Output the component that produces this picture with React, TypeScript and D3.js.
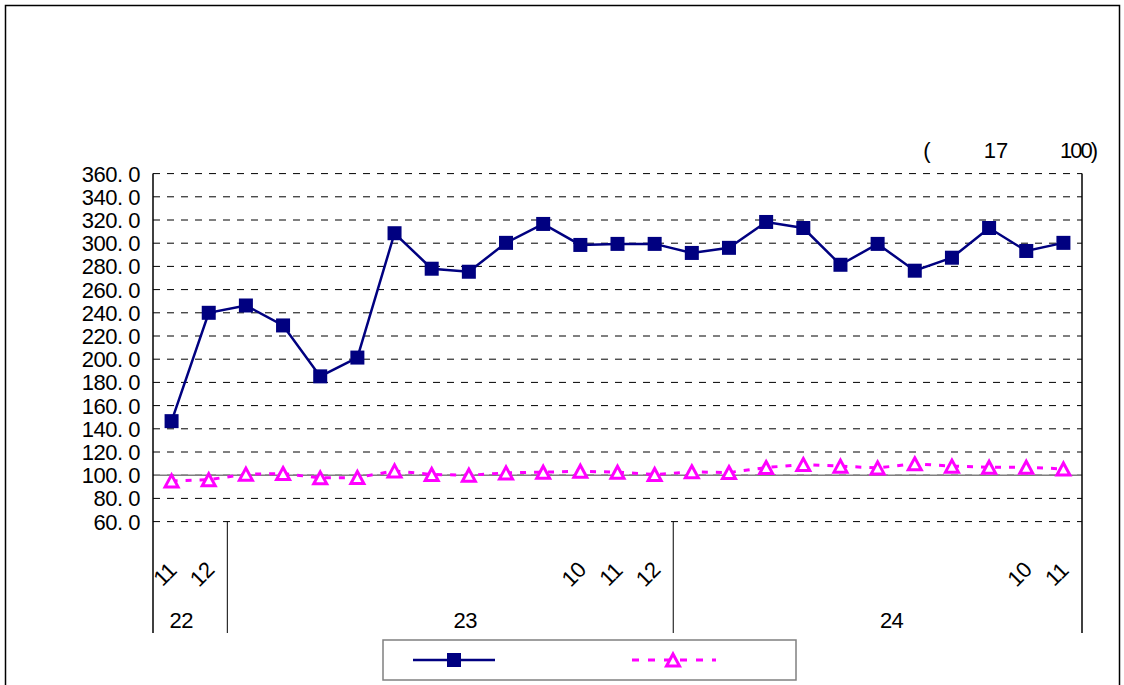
import React from 'react';
import * as d3 from 'd3';

// ---- data ----
const monthLabels = ['11', '12', '', '', '', '', '', '', '', '', '', '10', '11', '12', '', '', '', '', '', '', '', '', '', '10', '11'];
const yearLabels = ['22', '23', '24'];
const yearCounts = [2, 12, 11];
const seriesA = [146.6, 240.0, 246.3, 229.1, 185.2, 201.4, 308.6, 278.0, 275.4, 300.3, 316.6, 298.5, 299.4, 299.4, 291.6, 296.0, 318.3, 313.1, 281.4, 299.4, 276.3, 287.5, 313.1, 293.3, 300.3];
const seriesB = [95.1, 96.1, 100.9, 101.4, 97.7, 98.0, 103.7, 100.6, 100.0, 102.0, 102.6, 103.4, 102.6, 100.6, 102.9, 102.3, 106.6, 109.2, 107.8, 106.3, 109.8, 107.8, 106.9, 106.9, 105.4];
const yTicks = [60, 80, 100, 120, 140, 160, 180, 200, 220, 240, 260, 280, 300, 320, 340, 360];
const noteTexts = ['(', '17', '100)'];

// ---- layout ----
const W = 1124, H = 685;
const L = 153, R = 1082, T = 173.6, B = 521.6;
const AXIS_BOTTOM = 633;
const FONT = '"Liberation Sans", Arial, sans-serif';
const NAVY = '#000080';
const MAG = '#FF00FF';

export default function App() {
  const idx = d3.range(seriesA.length);
  const x = d3.scaleBand<number>().domain(idx).range([L, R]).padding(0);
  const cx = (i: number) => (x(i) as number) + x.bandwidth() / 2;
  const y = d3.scaleLinear().domain([60, 360]).range([B, T]);

  const lineA = d3.line<number>().x((_, i) => cx(i)).y(d => y(d));
  const lineB = d3.line<number>().x((_, i) => cx(i)).y(d => y(d));

  const starts: number[] = [];
  let acc = 0;
  yearCounts.forEach(c => { starts.push(acc); acc += c; });
  const yearOffsets = [-9, 15, 14];

  const tri = 'M0,-6 L6.5,6 L-6.5,6 Z';

  return (
    <svg width={W} height={H} style={{ position: 'absolute', left: 0, top: 0, background: '#fff' }} fontFamily={FONT}>
      <rect x={5.5} y={5.5} width={1114} height={700} fill="none" stroke="#000" strokeWidth={1.5} />

      {/* note */}
      <text x={927} y={158} fontSize={22} textAnchor="middle">{noteTexts[0]}</text>
      <text x={996} y={158} fontSize={22} textAnchor="middle">{noteTexts[1]}</text>
      <text x={1078} y={158} fontSize={22} textAnchor="middle" letterSpacing={-2}>{noteTexts[2]}</text>

      {/* gridlines */}
      {yTicks.map(t => (
        <line key={'g' + t} x1={L} x2={R} y1={y(t)} y2={y(t)} stroke="#000" strokeWidth={1} strokeDasharray="7 7" />
      ))}
      <line x1={L} x2={R} y1={y(100)} y2={y(100)} stroke="#808080" strokeWidth={1.5} />

      {/* axes / frame */}
      <line x1={L} x2={L} y1={T} y2={AXIS_BOTTOM} stroke="#000" strokeWidth={1.5} />
      <line x1={R} x2={R} y1={T} y2={AXIS_BOTTOM} stroke="#000" strokeWidth={1.5} />
      {starts.slice(1).map(s => (
        <line key={'sep' + s} x1={x(s) as number} x2={x(s) as number} y1={B} y2={AXIS_BOTTOM} stroke="#000" strokeWidth={1} />
      ))}

      {/* y labels */}
      {yTicks.map(t => (
        <text key={'yl' + t} x={140} y={y(t)} dy="0.36em" fontSize={22} textAnchor="end" letterSpacing={-0.5}>
          {t.toFixed(1).replace('.', '. ')}
        </text>
      ))}

      {/* month labels */}
      {monthLabels.map((m, i) => m ? (
        <text key={'m' + i} transform={`translate(${cx(i) - 7},574) rotate(-45)`} fontSize={22} textAnchor="middle" dy="0.36em" letterSpacing={-0.5}>{m}</text>
      ) : null)}

      {/* year labels */}
      {yearLabels.map((yl, k) => {
        const a = x(starts[k]) as number;
        const b = (x(starts[k] + yearCounts[k] - 1) as number) + x.bandwidth();
        return <text key={'y' + yl} x={(a + b) / 2 + yearOffsets[k]} y={620} dy="0.36em" fontSize={22} textAnchor="middle" letterSpacing={-0.5}>{yl}</text>;
      })}

      {/* series B */}
      <path d={lineB(seriesB) as string} fill="none" stroke={MAG} strokeWidth={3} strokeDasharray="6 8" />
      {seriesB.map((v, i) => (
        <path key={'tb' + i} d={tri} transform={`translate(${cx(i)},${y(v)})`} fill="#fff" stroke={MAG} strokeWidth={3} />
      ))}

      {/* series A */}
      <path d={lineA(seriesA) as string} fill="none" stroke={NAVY} strokeWidth={2.5} />
      {seriesA.map((v, i) => (
        <rect key={'ra' + i} x={cx(i) - 7} y={y(v) - 7} width={14} height={14} fill={NAVY} />
      ))}

      {/* legend */}
      <rect x={383} y={640} width={413} height={40} fill="#fff" stroke="#808080" strokeWidth={1.5} />
      <line x1={413} x2={495} y1={660} y2={660} stroke={NAVY} strokeWidth={2.5} />
      <rect x={447} y={653} width={14} height={14} fill={NAVY} />
      <line x1={632} x2={716} y1={660} y2={660} stroke={MAG} strokeWidth={3} strokeDasharray="7 9" />
      <path d={tri} transform="translate(673,660)" fill="#fff" stroke={MAG} strokeWidth={3} />
    </svg>
  );
}
